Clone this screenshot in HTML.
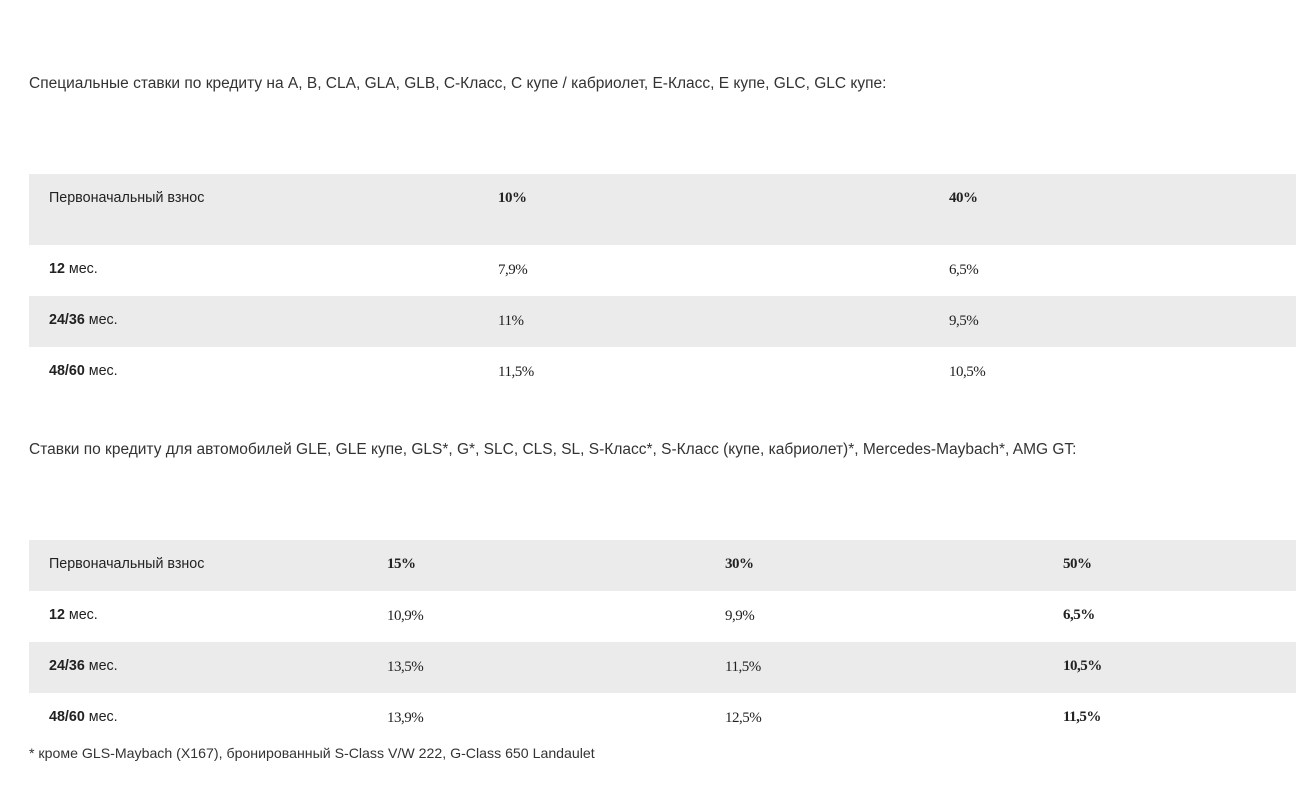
<!DOCTYPE html>
<html>
<head>
<meta charset="utf-8">
<style>
  html, body { margin:0; padding:0; background:#fff; }
  body { width:1296px; height:789px; position:relative; overflow:hidden; color:#333;
         font-family:"Liberation Sans", "DejaVu Sans", sans-serif; }
  .h { position:absolute; left:29px; font-size:15.5px; line-height:20px; color:#333; white-space:nowrap; }
  .bg { position:absolute; left:29px; right:0; background:#ebebeb; }
  .t { position:absolute; font-size:14.3px; line-height:18px; white-space:nowrap; color:#222; }
  .lbl { font-family:"Liberation Sans", sans-serif; margin-top:1px; }
  .lbl b { font-weight:bold; }
  .n { font-family:"Liberation Serif", serif; font-size:15px; letter-spacing:-0.5px; margin-top:2px; }
  .nb { font-family:"Liberation Serif", serif; font-size:15px; font-weight:bold; letter-spacing:-0.5px; margin-top:1px; }
  .fn { position:absolute; left:29px; top:744px; font-size:14.15px; line-height:18px; color:#333; white-space:nowrap; }
</style>
</head>
<body>
  <div class="h" style="top:74px;">Специальные ставки по кредиту на A, B, CLA, GLA, GLB, С-Класс, С купе / кабриолет, Е-Класс, Е купе, GLC, GLC купе:</div>

  <div class="bg" style="top:174px;height:71px;"></div>
  <div class="bg" style="top:296px;height:51px;"></div>

  <div class="t lbl" style="left:49px;top:188px;">Первоначальный взнос</div>
  <div class="t nb" style="left:498px;top:188px;">10%</div>
  <div class="t nb" style="left:949px;top:188px;">40%</div>

  <div class="t lbl" style="left:49px;top:259px;"><b>12</b> мес.</div>
  <div class="t n" style="left:498px;top:259px;">7,9%</div>
  <div class="t n" style="left:949px;top:259px;">6,5%</div>

  <div class="t lbl" style="left:49px;top:310px;"><b>24/36</b> мес.</div>
  <div class="t n" style="left:498px;top:310px;">11%</div>
  <div class="t n" style="left:949px;top:310px;">9,5%</div>

  <div class="t lbl" style="left:49px;top:361px;"><b>48/60</b> мес.</div>
  <div class="t n" style="left:498px;top:361px;">11,5%</div>
  <div class="t n" style="left:949px;top:361px;">10,5%</div>

  <div class="h" style="top:440px;">Ставки по кредиту для автомобилей GLE, GLE купе, GLS*, G*, SLC, CLS, SL, S-Класс*, S-Класс (купе, кабриолет)*, Mercedes-Maybach*, AMG GT:</div>

  <div class="bg" style="top:540px;height:51px;"></div>
  <div class="bg" style="top:642px;height:51px;"></div>

  <div class="t lbl" style="left:49px;top:554px;">Первоначальный взнос</div>
  <div class="t nb" style="left:387px;top:554px;">15%</div>
  <div class="t nb" style="left:725px;top:554px;">30%</div>
  <div class="t nb" style="left:1063px;top:554px;">50%</div>

  <div class="t lbl" style="left:49px;top:605px;"><b>12</b> мес.</div>
  <div class="t n" style="left:387px;top:605px;">10,9%</div>
  <div class="t n" style="left:725px;top:605px;">9,9%</div>
  <div class="t nb" style="left:1063px;top:605px;">6,5%</div>

  <div class="t lbl" style="left:49px;top:656px;"><b>24/36</b> мес.</div>
  <div class="t n" style="left:387px;top:656px;">13,5%</div>
  <div class="t n" style="left:725px;top:656px;">11,5%</div>
  <div class="t nb" style="left:1063px;top:656px;">10,5%</div>

  <div class="t lbl" style="left:49px;top:707px;"><b>48/60</b> мес.</div>
  <div class="t n" style="left:387px;top:707px;">13,9%</div>
  <div class="t n" style="left:725px;top:707px;">12,5%</div>
  <div class="t nb" style="left:1063px;top:707px;">11,5%</div>

  <div class="fn">* кроме GLS-Maybach (X167), бронированный S-Class V/W 222, G-Class 650 Landaulet</div>
</body>
</html>
